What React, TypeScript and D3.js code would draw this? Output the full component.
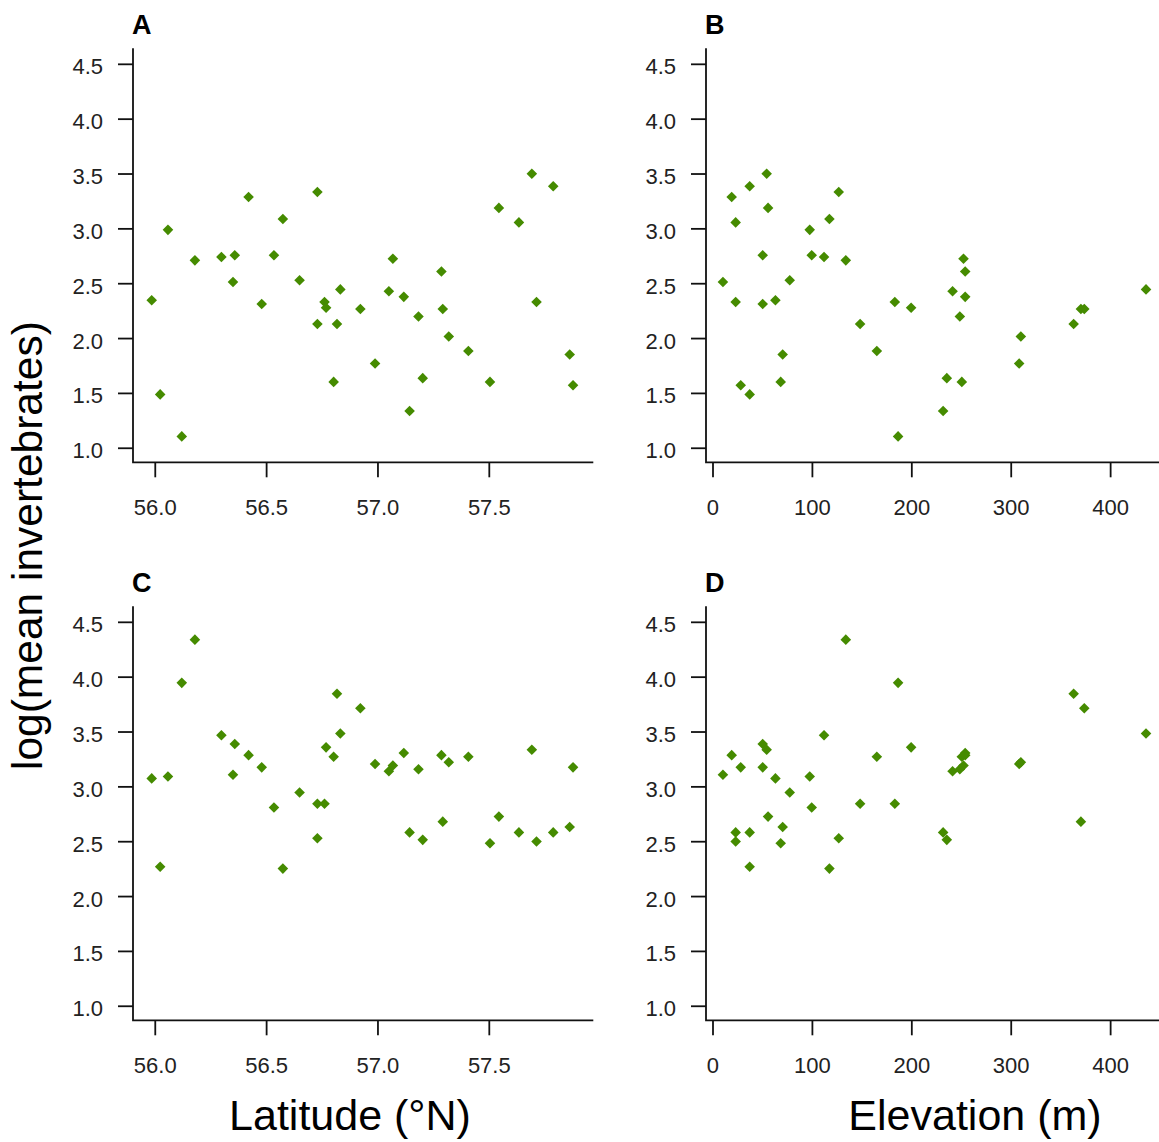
import React from "react";
import * as d3 from "d3";

// ---- data (one entry per site) ----
const latitude = [55.984, 56.022, 56.057, 56.119, 56.178, 56.297, 56.357, 56.349, 56.419, 56.478, 56.533, 56.573, 56.648, 56.728, 56.728, 56.76, 56.767, 56.801, 56.816, 56.831, 56.921, 56.987, 57.049, 57.067, 57.116, 57.142, 57.182, 57.201, 57.285, 57.291, 57.318, 57.406, 57.503, 57.543, 57.633, 57.691, 57.712, 57.787, 57.861, 57.876];
const elevation = [62.8, 36.9, 97.3, 186.2, 133.6, 111.7, 50, 10, 18.8, 50, 99.3, 117.1, 77.2, 126.5, 148, 182.9, 199.3, 250.3, 362.8, 435.6, 373.5, 308, 241, 252, 253.7, 231.5, 248.3, 235.2, 253.7, 370.1, 309.7, 164.8, 68.1, 55.4, 22.8, 54, 22.8, 36.9, 70.1, 27.9];
const logInvTop = [2.349, 1.491, 2.991, 1.108, 2.713, 2.744, 2.759, 2.515, 3.29, 2.315, 2.759, 3.09, 2.531, 3.336, 2.133, 2.333, 2.281, 1.605, 2.133, 2.448, 2.269, 1.772, 2.432, 2.728, 2.38, 1.34, 2.201, 1.639, 2.611, 2.269, 2.019, 1.886, 1.605, 3.191, 3.059, 3.503, 2.333, 3.389, 1.855, 1.574];
const logInvBottom = [3.077, 2.271, 3.095, 3.948, 4.342, 3.471, 3.391, 3.111, 3.289, 3.178, 2.812, 2.255, 2.948, 2.532, 2.846, 2.846, 3.36, 3.274, 3.849, 3.486, 3.717, 3.209, 3.142, 3.194, 3.308, 2.585, 3.16, 2.517, 3.289, 2.683, 3.225, 3.274, 2.486, 2.729, 2.585, 3.338, 2.502, 2.585, 2.634, 3.178];

const yTicks = [1, 1.5, 2, 2.5, 3, 3.5, 4, 4.5];
const latTicks = [56, 56.5, 57, 57.5];
const elevTicks = [0, 100, 200, 300, 400];
const panelLetters = ["A", "B", "C", "D"];

// ---- layout ----
const W = 1159;
const H = 1142;
const panelW = 460.3;
const panelH = 414;
const lefts = [133, 706];
const tops = [48.3, 606.3];
const FONT = "'Liberation Sans', Arial, Helvetica, sans-serif";
const GREEN = "#458B00";
const INK = "#111";

const yScale = d3.scaleLinear().domain([0.872, 4.646]).range([panelH, 0]);
const latScale = d3.scaleLinear().domain([55.9, 57.967]).range([0, panelW]);
const elevScale = d3.scaleLinear().domain([-7.04, 456]).range([0, panelW]);

const diamond = d3.symbol().type(d3.symbolSquare).size(56)();

type PanelProps = {
  left: number;
  top: number;
  letter: string;
  xScale: d3.ScaleLinear<number, number>;
  xTicks: number[];
  xFmt: (v: number) => string;
  xs: number[];
  ys: number[];
};

function Panel({ left, top, letter, xScale, xTicks, xFmt, xs, ys }: PanelProps) {
  return (
    <g transform={`translate(${left},${top})`}>
      <text x={-1} y={-14.3} fontFamily={FONT} fontWeight="bold" fontSize={27} fill="#000">
        {letter}
      </text>
      {/* L-shaped box */}
      <path d={`M0,0V${panelH}H${panelW}`} fill="none" stroke={INK} strokeWidth={1.8} />
      {/* y axis */}
      {yTicks.map((t) => (
        <g key={"y" + t}>
          <line x1={-15} x2={0} y1={yScale(t)} y2={yScale(t)} stroke={INK} strokeWidth={1.8} />
          <text
            x={-30}
            y={yScale(t) + 10}
            textAnchor="end"
            fontFamily={FONT}
            fontSize={22}
            fill="#222"
          >
            {d3.format(".1f")(t)}
          </text>
        </g>
      ))}
      {/* x axis */}
      {xTicks.map((t) => (
        <g key={"x" + t}>
          <line x1={xScale(t)} x2={xScale(t)} y1={panelH} y2={panelH + 15} stroke={INK} strokeWidth={1.8} />
          <text
            x={xScale(t)}
            y={panelH + 53}
            textAnchor="middle"
            fontFamily={FONT}
            fontSize={22}
            fill="#222"
          >
            {xFmt(t)}
          </text>
        </g>
      ))}
      {/* points */}
      {xs.map((x, i) => (
        <path
          key={i}
          d={diamond}
          transform={`translate(${xScale(x)},${yScale(ys[i])}) rotate(45)`}
          fill={GREEN}
        />
      ))}
    </g>
  );
}

export default function App() {
  const latFmt = d3.format(".1f");
  const elevFmt = d3.format("d");
  return (
    <svg
      width={W}
      height={H}
      viewBox={`0 0 ${W} ${H}`}
      style={{ position: "absolute", left: 0, top: 0, background: "#fff" }}
    >
      <rect x={0} y={0} width={W} height={H} fill="#fff" />
      <Panel left={lefts[0]} top={tops[0]} letter={panelLetters[0]} xScale={latScale} xTicks={latTicks} xFmt={latFmt} xs={latitude} ys={logInvTop} />
      <Panel left={lefts[1]} top={tops[0]} letter={panelLetters[1]} xScale={elevScale} xTicks={elevTicks} xFmt={elevFmt} xs={elevation} ys={logInvTop} />
      <Panel left={lefts[0]} top={tops[1]} letter={panelLetters[2]} xScale={latScale} xTicks={latTicks} xFmt={latFmt} xs={latitude} ys={logInvBottom} />
      <Panel left={lefts[1]} top={tops[1]} letter={panelLetters[3]} xScale={elevScale} xTicks={elevTicks} xFmt={elevFmt} xs={elevation} ys={logInvBottom} />
      <text
        transform={`translate(42,770) rotate(-90)`}
        textAnchor="start"
        fontFamily={FONT}
        fontSize={42.5}
        fill="#000"
      >
        log(mean invertebrates)
      </text>
      <text x={350} y={1130} textAnchor="middle" fontFamily={FONT} fontSize={43} fill="#000">
        Latitude (°N)
      </text>
      <text x={975} y={1130} textAnchor="middle" fontFamily={FONT} fontSize={43} fill="#000">
        Elevation (m)
      </text>
    </svg>
  );
}
